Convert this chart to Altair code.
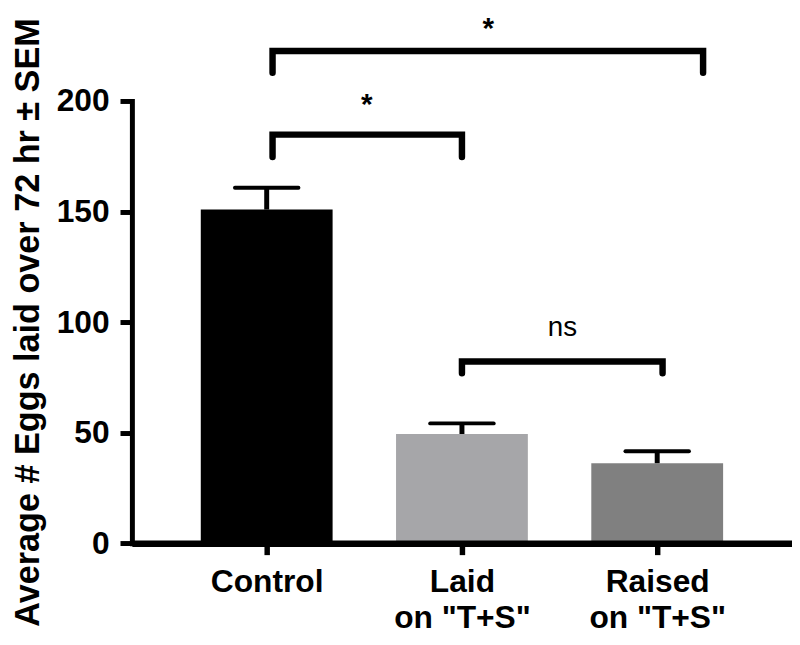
import altair as alt
import pandas as pd

# ---- data ----
categories = ["Control", "Laid", "Raised"]
positions = [0, 1, 2]
means = [150.9, 49.4, 36.2]
sems = [9.9, 4.8, 5.4]
bar_colors = ["#000000", "#a6a6a9", "#808080"]

label_line1 = ["Control", "Laid", "Raised"]
label_line2 = ["", 'on "T+S"', 'on "T+S"']

y_ticks = [0, 50, 100, 150, 200]

# significance brackets (x in category units, y in data units)
bracket_names = ["ctrl_raised", "ctrl_laid", "laid_raised"]
bracket_x = [[0.03, 0.03, 2.235, 2.235],
             [0.03, 0.03, 1.0, 1.0],
             [1.0, 1.0, 2.0275, 2.0275]]
bracket_y = [[212.8, 222.6, 222.6, 212.8],
             [174.7, 184.8, 184.8, 174.7],
             [76.9, 82.2, 82.2, 76.9]]

star_labels = ["*", "*"]
star_x = [1.135, 0.513]
star_y = [228.5, 194.2]

ns_labels = ["ns"]
ns_x = [1.515]
ns_y = [93.9]

# ---- tables ----
bars = pd.DataFrame({"category": categories, "pos": positions,
                     "mean": means, "sem": sems})

rows = []
for name, xs, ys in zip(bracket_names, bracket_x, bracket_y):
    for i, (xv, yv) in enumerate(zip(xs, ys)):
        rows.append({"bracket": name, "order": i, "bx": xv, "by": yv})
brackets = pd.DataFrame(rows)

stars = pd.DataFrame({"label": star_labels, "sx": star_x, "sy": star_y})
ns = pd.DataFrame({"label": ns_labels, "sx": ns_x, "sy": ns_y})

FONT = "Liberation Sans"

# label expression (multi-line category labels)
parts = []
for p, l1, l2 in zip(positions, label_line1, label_line2):
    arr = "['" + l1 + "'" + (", '" + l2 + "'" if l2 else "") + "]"
    parts.append((p, arr))
label_expr = ""
for p, arr in parts[:-1]:
    label_expr += f"datum.value == {p} ? {arr} : "
label_expr += parts[-1][1]

x_scale = alt.Scale(domain=[-0.665, 2.665], nice=False, zero=False)
y_scale = alt.Scale(domain=[0, 200], nice=False, zero=True)

x_axis = alt.Axis(values=positions, labelExpr=label_expr, title=None,
                  grid=False, domainColor="black", domainWidth=6.5,
                  tickColor="black", tickWidth=5.5, tickSize=11.5,
                  labelFont=FONT, labelFontSize=32, labelFontWeight="bold",
                  labelColor="black", labelPadding=12, labelLineHeight=37,
                  labelFlush=False, labelOverlap=False, zindex=1)

y_axis = alt.Axis(values=y_ticks, title="Average # Eggs laid over 72 hr ± SEM",
                  grid=False, domainColor="black", domainWidth=5,
                  domainCap="square",
                  tickColor="black", tickWidth=5, tickSize=12,
                  labelFont=FONT, labelFontSize=32, labelFontWeight="bold",
                  labelColor="black", labelPadding=11,
                  titleFont=FONT, titleFontSize=34.5, titleFontWeight="bold",
                  titleColor="black", titleAngle=270, titleAlign="center",
                  titleBaseline="alphabetic", titleX=-94, titleY=223,
                  zindex=1)

base = alt.Chart(bars)

bar_layer = base.mark_bar(size=133, orient="vertical").encode(
    x=alt.X("pos:Q", scale=x_scale, axis=x_axis),
    y=alt.Y("mean:Q", scale=y_scale, axis=y_axis),
    color=alt.Color("category:N",
                    scale=alt.Scale(domain=categories, range=bar_colors),
                    legend=None),
)

stem_layer = base.transform_calculate(upper="datum.mean + datum.sem").mark_rule(
    color="black", strokeWidth=5).encode(
    x="pos:Q", y="mean:Q", y2="upper:Q")

cap_layer = base.transform_calculate(
    upper="datum.mean + datum.sem",
    lo="datum.pos - 0.1625",
    hi="datum.pos + 0.1625").mark_rule(
    color="black", strokeWidth=4, strokeCap="round").encode(
    x="lo:Q", x2="hi:Q", y="upper:Q")

bracket_layer = alt.Chart(brackets).mark_line(
    color="black", strokeWidth=6.5, strokeCap="round", strokeJoin="miter",
    clip=False).encode(
    x="bx:Q", y="by:Q", detail="bracket:N", order="order:Q")

star_layer = alt.Chart(stars).mark_text(
    font=FONT, fontSize=30, fontWeight="bold", color="black",
    baseline="alphabetic", align="center", clip=False).encode(
    x="sx:Q", y="sy:Q", text="label:N")

ns_layer = alt.Chart(ns).mark_text(
    font=FONT, fontSize=28, color="black", baseline="alphabetic",
    align="center", clip=False).encode(
    x="sx:Q", y="sy:Q", text="label:N")

chart = alt.layer(bar_layer, stem_layer, cap_layer, bracket_layer,
                  star_layer, ns_layer).properties(
    width=666, height=446.2,
    autosize=alt.AutoSizeParams(type="none"),
    padding={"left": 125, "top": 91, "right": 0, "bottom": 95},
    background="white",
).configure_view(strokeWidth=0)

chart.save("out.html", embed_options={"renderer": "svg", "actions": False})
